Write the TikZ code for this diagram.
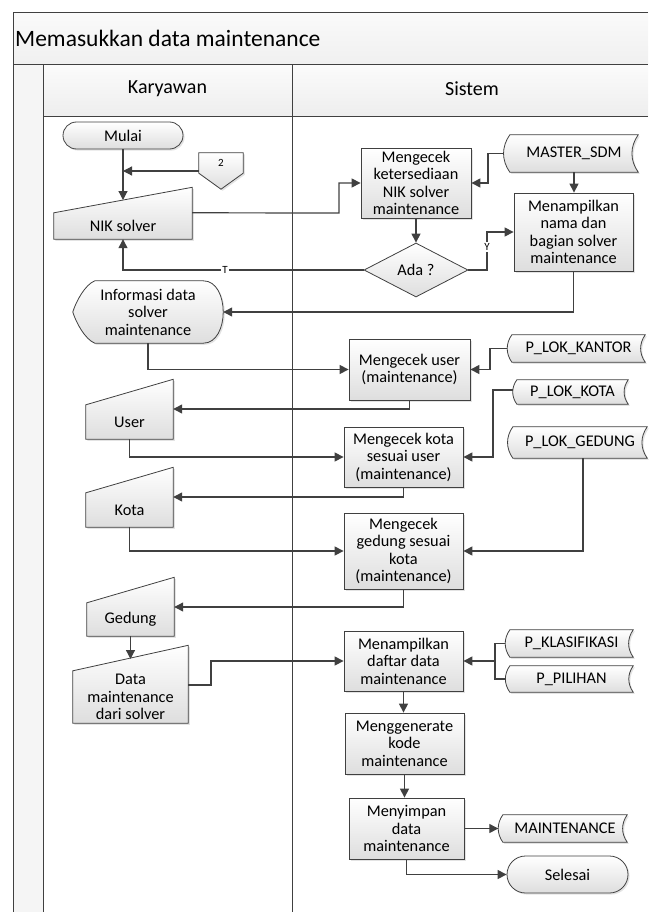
\documentclass[tikz,border=0pt]{standalone}
\usepackage{fontspec}
\setmainfont{Carlito}
\usetikzlibrary{arrows.meta,shapes.geometric,shadows}
\definecolor{ln}{HTML}{404040}
\pgfdeclarelayer{lanes}
\pgfdeclarelayer{shapes}
\pgfsetlayers{lanes,shapes,main}

\tikzset{
  every node/.style={font=\fontsize{16.3}{17.5}\selectfont, inner sep=0pt, align=center},
  softshadow/.style={drop shadow={opacity=0.22, shadow xshift=1.6pt, shadow yshift=-1.6pt}},
  boxshade/.style={top color=white, bottom color=black!13},
  proc/.style={rectangle, draw=ln, line width=0.8pt, boxshade, softshadow},
  term/.style={proc},
  dec/.style={diamond, draw=ln, line width=0.8pt, boxshade},
  holder/.style={rectangle, draw=none},
  shp/.style={draw=ln, line width=0.8pt, boxshade, softshadow},
  lane/.style={draw=ln, line width=1pt},
  conn/.style={draw=ln, line width=1.2pt},
  arr/.style={conn, -{Triangle[length=9pt,width=9pt]}},
  lbl/.style={font=\fontsize{11}{12}\selectfont, fill=white, inner sep=1pt},
}

\begin{document}
\begin{tikzpicture}[x=1pt, y=-1pt]
\useasboundingbox (0,0) rectangle (648,912);

% swimlane frame
\begin{pgfonlayer}{lanes}
  \fill[top color=gray!4, bottom color=gray!12] (13,13) rectangle (648,65);
  \fill[gray!8] (13,65) rectangle (43,912);
  \fill[top color=gray!3, bottom color=gray!14] (43,65) rectangle (648,117);
  \draw[lane] (648,13) -- (13,13) -- (13,912);
  \draw[lane] (13,65) -- (648,65);
  \draw[lane] (43,65) -- (43,912);
  \draw[lane] (292,65) -- (292,912);
  \draw[lane] (43,117) -- (648,117);
\end{pgfonlayer}

\node[anchor=west, font=\fontsize{23.5}{26}\selectfont] (title) at (15,38) {Memasukkan data maintenance};
\node[font=\fontsize{20}{22}\selectfont] (hk) at (167.5,89) {Karyawan};
\node[font=\fontsize{20}{22}\selectfont] (hs) at (472,89) {Sistem};

% flow elements
\node[term, rounded corners=13.5pt, minimum width=120pt, minimum height=27pt] (mulai) at (123,135.5) {Mulai};
\node[holder, minimum width=44pt, minimum height=20pt, font=\fontsize{11}{12}\selectfont] (off2) at (221,163) {2};
\node[holder, minimum width=138pt, minimum height=26pt] (nik) at (123,226) {NIK solver};
\node[proc, minimum width=110pt, minimum height=70pt] (cek1) at (416,183) {Mengecek\\ketersediaan\\NIK solver\\maintenance};
\node[holder, minimum width=128pt, minimum height=37pt] (sdm) at (574,153.5) {MASTER\_SDM};
\node[proc, minimum width=119pt, minimum height=78pt] (tampil1) at (573.5,232) {Menampilkan\\nama dan\\bagian solver\\maintenance};
\node[dec, minimum width=104pt, minimum height=54pt] (ada) at (416,270) {Ada ?};
\node[holder, minimum width=150pt, minimum height=62pt] (info) at (148,312) {Informasi data\\solver\\maintenance};
\node[proc, minimum width=121pt, minimum height=61pt] (cekuser) at (409.5,369.5) {Mengecek user\\(maintenance)};
\node[holder, minimum width=133pt, minimum height=27pt] (kantor) at (578.5,348.5) {P\_LOK\_KANTOR};
\node[holder, minimum width=87pt, minimum height=34pt] (user) at (129.5,422) {User};
\node[holder, minimum width=111pt, minimum height=24pt] (lokkota) at (572.5,392) {P\_LOK\_KOTA};
\node[proc, minimum width=119pt, minimum height=60pt] (cekkota) at (403.5,457) {Mengecek kota\\sesuai user\\(maintenance)};
\node[holder, minimum width=87pt, minimum height=34pt] (kota) at (129.5,510) {Kota};
\node[holder, minimum width=134pt, minimum height=31pt] (lokgedung) at (580,442.5) {P\_LOK\_GEDUNG};
\node[proc, minimum width=119pt, minimum height=76pt] (cekgedung) at (403.5,551) {Mengecek\\gedung sesuai\\kota\\(maintenance)};
\node[holder, minimum width=87pt, minimum height=33pt] (gedung) at (130.5,619.5) {Gedung};
\node[holder, minimum width=115pt, minimum height=52pt] (data) at (130.5,697) {Data\\maintenance\\dari solver};
\node[proc, minimum width=119pt, minimum height=60pt] (daftar) at (403.5,661) {Menampilkan\\daftar data\\maintenance};
\node[holder, minimum width=123pt, minimum height=27pt] (klas) at (571.5,643.5) {P\_KLASIFIKASI};
\node[holder, minimum width=123pt, minimum height=26pt] (pilihan) at (571.5,679) {P\_PILIHAN};
\node[proc, minimum width=119pt, minimum height=61pt] (generate) at (404.5,743.5) {Menggenerate\\kode\\maintenance};
\node[proc, minimum width=115pt, minimum height=61pt] (simpan) at (406.5,828.5) {Menyimpan\\data\\maintenance};
\node[holder, minimum width=124pt, minimum height=27pt] (mtc) at (565,828.5) {MAINTENANCE};
\node[term, rounded corners=18.5pt, minimum width=121pt, minimum height=37pt] (selesai) at (567.5,874.5) {Selesai};

% outlines of the non-rectangular symbols
\begin{pgfonlayer}{shapes}
  % manual input
  \foreach \n in {nik,user,kota,gedung,data}
    \draw[shp] (\n.south west) -- (\n.north west) -- ([yshift=25.5pt]\n.north east) -- (\n.south east) -- cycle;
  % stored data
  \foreach \n in {sdm,kantor,lokkota,lokgedung,klas,pilihan,mtc}
    \draw[shp] (\n.north west) -- (\n.north east) to[bend right=35] (\n.south east)
      -- (\n.south west) to[bend left=35] (\n.north west) -- cycle;
  % off-page reference
  \draw[shp] (off2.north west) -- (off2.north east) -- (off2.south east)
    -- ([yshift=-16pt]off2.south) -- (off2.south west) -- cycle;
  % display
  \draw[shp] ([xshift=22pt]info.north west) -- ([xshift=-20pt]info.north east)
    .. controls ([xshift=6.7pt]info.north east) and ([xshift=6.7pt]info.south east) .. ([xshift=-20pt]info.south east)
    -- ([xshift=22pt]info.south west)
    .. controls ([xshift=12pt,yshift=4pt]info.south west) and ([xshift=3pt,yshift=-10pt]info.west) .. (info.west)
    .. controls ([xshift=3pt,yshift=10pt]info.west) and ([xshift=12pt,yshift=-4pt]info.north west) .. ([xshift=22pt]info.north west)
    -- cycle;
\end{pgfonlayer}

% connectors
\coordinate (nikin) at (123,200);
\coordinate (j2) at (123,171);
\draw[arr] (mulai.south) -- (nikin);
\draw[arr] ([yshift=-8pt]off2.west) -- (j2);
\draw[arr] (nik.north east) -- (339,213) |- (cek1.west);
\draw[arr] ([xshift=-6pt]sdm.west) -- (488,153.5) |- (cek1.east);
\draw[arr] (sdm.south) -- (sdm.south |- tampil1.north);
\draw[arr] (cek1.south) -- (ada.north);
\draw[arr] (ada.east) -- (487,270) |- (tampil1.west);
\node[lbl] (ylbl) at (487,247) {Y};
\draw[arr] (ada.west) -- (123,270) -- (nik.south);
\node[lbl] (tlbl) at (225,270) {T};
\draw[arr] (tampil1.south) |- (info.east);
\draw[arr] (info.south) |- (cekuser.west);
\draw[arr] ([xshift=-4.5pt]kantor.west) -- (490,348.5) |- (cekuser.east);
\draw[arr] (cekuser.south) |- ([yshift=13pt]user.east);
\draw[arr] ([xshift=-4pt,yshift=2pt]lokkota.west) -- (493,390) |- (cekkota.east);
\draw[arr] (user.south) |- (cekkota.west);
\draw[arr] (cekkota.south) |- ([yshift=13pt]kota.east);
\draw[arr] (kota.south) |- (cekgedung.west);
\draw[arr] ([xshift=3pt]lokgedung.south) |- (cekgedung.east);
\draw[arr] (cekgedung.south) |- ([yshift=12.5pt]gedung.east);
\coordinate (datain) at (130.5,659);
\draw[arr] (gedung.south) -- (datain);
\draw[arr] ([yshift=12pt]data.east) -- (211,685) |- (daftar.west);
\coordinate (jn) at (495,661);
\draw[conn] ([xshift=-4.5pt]klas.west) -| (jn) |- ([xshift=-4.3pt]pilihan.west);
\draw[arr] (jn) -- (daftar.east);
\draw[arr] (daftar.south) -- (daftar.south |- generate.north);
\draw[arr] (generate.south) -- (generate.south |- simpan.north);
\draw[arr] (simpan.east) -- ([xshift=-4.5pt]mtc.west);
\draw[arr] (simpan.south) |- (selesai.west);
\end{tikzpicture}
\end{document}
